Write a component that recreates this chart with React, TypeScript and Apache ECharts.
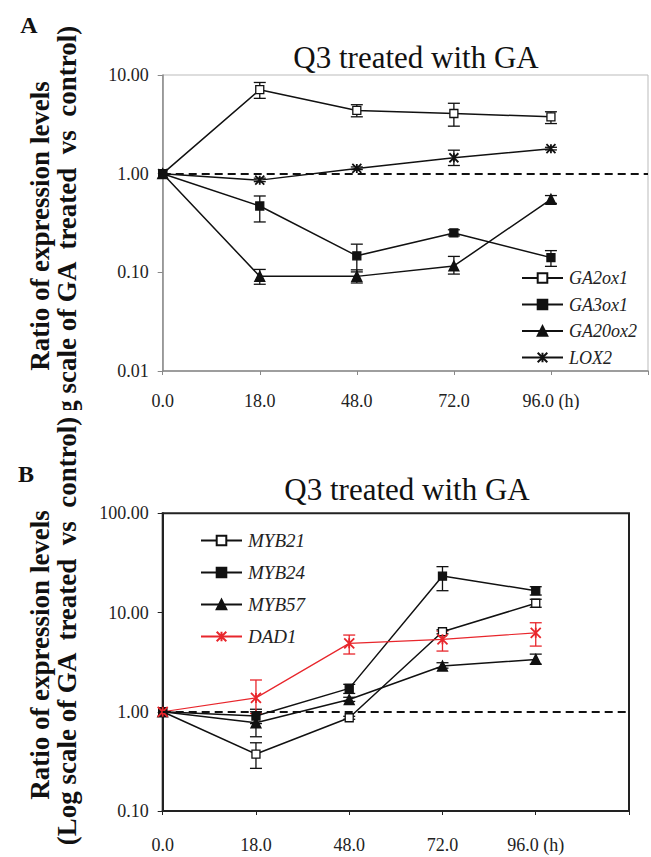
import React, { useEffect, useRef } from "react";
import * as echarts from "echarts";

const categories = ["0.0", "18.0", "48.0", "72.0", "96.0 (h)", ""];

// Panel A
const namesA = ["GA2ox1", "GA3ox1", "GA20ox2", "LOX2"];
const ga2ox1 = [1, 7.1, 4.37, 4.07, 3.77];
const ga2ox1Lo = [null, 5.8, 3.77, 3.03, 3.22];
const ga2ox1Hi = [null, 8.4, 5.0, 5.17, 4.24];
const ga3ox1 = [1, 0.47, 0.147, 0.251, 0.141];
const ga3ox1Lo = [null, 0.324, 0.101, 0.234, 0.115];
const ga3ox1Hi = [null, 0.594, 0.193, 0.27, 0.166];
const ga20ox2 = [1, 0.091, 0.091, 0.116, 0.55];
const ga20ox2Lo = [null, 0.0757, 0.078, 0.096, 0.5];
const ga20ox2Hi = [null, 0.107, 0.106, 0.145, 0.6];
const lox2 = [1, 0.86, 1.13, 1.45, 1.79];
const lox2Lo = [null, 0.83, 1.1, 1.21, 1.74];
const lox2Hi = [null, 0.9, 1.17, 1.73, 1.85];

// Panel B
const namesB = ["MYB21", "MYB24", "MYB57", "DAD1"];
const myb21 = [1, 0.375, 0.87, 6.4, 12.4];
const myb21Lo = [null, 0.269, 0.84, 6.1, 11.3];
const myb21Hi = [null, 0.487, 0.9, 6.7, 13.6];
const myb24 = [1, 0.905, 1.72, 23.3, 16.6];
const myb24Lo = [null, 0.76, 1.53, 16.6, 15.0];
const myb24Hi = [null, 1.06, 1.89, 29, 18.2];
const myb57 = [1, 0.775, 1.33, 2.89, 3.37];
const myb57Lo = [null, 0.56, 1.27, 2.75, 3.02];
const myb57Hi = [null, 1.0, 1.4, 3.12, 3.81];
const dad1 = [1, 1.38, 4.89, 5.37, 6.25];
const dad1Lo = [null, 0.96, 3.82, 4.09, 4.59];
const dad1Hi = [null, 2.09, 5.93, 6.5, 7.89];

const SERIF = "Liberation Serif";
const STAR = "path://M0,0L10,10M10,0L0,10M5,0L5,10";

type SDef = {
  name: string;
  values: number[];
  lo: (number | null)[];
  hi: (number | null)[];
  symbol: string;
  fill: string;
  color: string;
  size: number;
  lw: number;
};

function buildSeries(defs: SDef[]) {
  const out: any[] = [];
  defs.forEach((d, k) => {
    const isStar = d.symbol === STAR;
    out.push({
      type: "line",
      name: d.name,
      data: d.values,
      symbol: d.symbol,
      symbolSize: d.size,
      z: 3,
      lineStyle: { color: d.color, width: d.lw },
      itemStyle: {
        color: isStar ? d.color : d.fill,
        borderColor: d.color,
        borderWidth: isStar ? 1.8 : 1.3,
      },
      emphasis: { disabled: true },
      markLine:
        k === 0
          ? {
              silent: true,
              symbol: "none",
              label: { show: false },
              lineStyle: { color: "#111", type: [8, 5], width: 2 },
              data: [{ yAxis: 1 }],
            }
          : undefined,
    });
    const ebData: number[][] = [];
    d.lo.forEach((l, i) => {
      const h = d.hi[i];
      if (l != null && h != null) ebData.push([i, l, h]);
    });
    out.push({
      type: "custom",
      name: d.name + "-err",
      z: 2,
      data: ebData,
      renderItem: (_p: any, api: any) => {
        const x = api.value(0);
        const pLo = api.coord([x, api.value(1)]);
        const pHi = api.coord([x, api.value(2)]);
        const w = 6;
        const st = { stroke: d.color, lineWidth: 1.3 };
        return {
          type: "group",
          children: [
            { type: "line", shape: { x1: pLo[0], y1: pLo[1], x2: pHi[0], y2: pHi[1] }, style: st },
            { type: "line", shape: { x1: pHi[0] - w, y1: pHi[1], x2: pHi[0] + w, y2: pHi[1] }, style: st },
            { type: "line", shape: { x1: pLo[0] - w, y1: pLo[1], x2: pLo[0] + w, y2: pLo[1] }, style: st },
          ],
        };
      },
    });
  });
  return out;
}

function makeOption(cfg: any) {
  return {
    animation: false,
    backgroundColor: "#fff",
    textStyle: { fontFamily: SERIF },
    grid: {
      left: cfg.grid.left,
      right: cfg.grid.right,
      top: cfg.grid.top,
      bottom: cfg.grid.bottom,
      show: true,
      borderColor: cfg.borderColor,
      borderWidth: cfg.borderWidth,
    },
    legend: {
      data: cfg.names,
      orient: "vertical",
      left: cfg.legend.left,
      top: cfg.legend.top,
      itemWidth: 41,
      itemHeight: 12,
      itemGap: cfg.legend.gap,
      padding: 0,
      selectedMode: false,
      textStyle: {
        fontFamily: SERIF,
        fontStyle: "italic",
        fontSize: cfg.legend.fontSize,
        lineHeight: cfg.legend.fontSize,
        color: "#222",
        padding: [0, 0, 0, 1],
      },
    },
    xAxis: {
      type: "category",
      data: categories,
      boundaryGap: false,
      axisLine: { lineStyle: { color: cfg.axisColor, width: cfg.axisWidth } },
      axisTick: { show: true, length: 4, alignWithLabel: true, lineStyle: { color: cfg.axisColor } },
      axisLabel: {
        interval: 0,
        margin: cfg.xLabelMargin,
        fontFamily: SERIF,
        fontSize: 18,
        color: "#222",
      },
      splitLine: { show: false },
    },
    yAxis: {
      type: "log",
      logBase: 10,
      min: cfg.ymin,
      max: cfg.ymax,
      axisLine: { show: true, lineStyle: { color: cfg.axisColor, width: cfg.axisWidth } },
      axisTick: { show: true, length: 5, lineStyle: { color: cfg.axisColor } },
      axisLabel: {
        margin: 14,
        fontFamily: SERIF,
        fontSize: 18,
        color: "#222",
        formatter: (v: number) => v.toFixed(2),
      },
      splitLine: { show: false },
      minorTick: { show: false },
    },
    series: buildSeries(cfg.series),
    graphic: [
      {
        type: "text",
        x: cfg.letter.x,
        y: cfg.letter.y,
        style: {
          text: cfg.letter.text,
          fontFamily: SERIF,
          fontWeight: "bold",
          fontSize: 24,
          fill: "#111",
          textAlign: "center",
          textVerticalAlign: "middle",
        },
      },
      {
        type: "text",
        x: cfg.title.x,
        y: cfg.title.y,
        style: {
          text: "Q3 treated with GA",
          fontFamily: SERIF,
          fontSize: 31,
          fill: "#111",
          textAlign: "center",
          textVerticalAlign: "middle",
        },
      },
      {
        type: "text",
        x: 40,
        y: cfg.ylab1y,
        rotation: Math.PI / 2,
        style: {
          text: "Ratio of expression levels",
          fontFamily: SERIF,
          fontWeight: "bold",
          fontSize: 27,
          fill: "#111",
          textAlign: "center",
          textVerticalAlign: "middle",
        },
      },
      {
        type: "text",
        x: 67,
        y: cfg.ylab2y,
        rotation: Math.PI / 2,
        style: {
          text: "(Log scale of GA  treated  vs  control)",
          fontFamily: SERIF,
          fontWeight: "bold",
          fontSize: 27,
          fill: "#111",
          textAlign: "center",
          textVerticalAlign: "middle",
        },
      },
    ],
  };
}

const BLACK = "#111";
const RED = "#e8262c";

const cfgA = {
  names: namesA,
  grid: { left: 162.7, right: 3, top: 75, bottom: 410 - 371.7 },
  borderColor: "#bbb",
  borderWidth: 1,
  axisColor: "#888",
  axisWidth: 1.5,
  xLabelMargin: 21,
  ymin: 0.01,
  ymax: 10,
  legend: { left: 521, top: 269, gap: 8.5, fontSize: 18 },
  letter: { text: "A", x: 29, y: 25 },
  title: { x: 416, y: 57 },
  ylab1y: 226,
  ylab2y: 240,
  series: [
    { name: "GA2ox1", values: ga2ox1, lo: ga2ox1Lo, hi: ga2ox1Hi, symbol: "rect", fill: "#fff", color: BLACK, size: 8, lw: 1.5 },
    { name: "GA3ox1", values: ga3ox1, lo: ga3ox1Lo, hi: ga3ox1Hi, symbol: "rect", fill: BLACK, color: BLACK, size: 8, lw: 1.5 },
    { name: "GA20ox2", values: ga20ox2, lo: ga20ox2Lo, hi: ga20ox2Hi, symbol: "triangle", fill: BLACK, color: BLACK, size: 10, lw: 1.5 },
    { name: "LOX2", values: lox2, lo: lox2Lo, hi: lox2Hi, symbol: STAR, fill: BLACK, color: BLACK, size: 9, lw: 1.5 },
  ],
};

const OFF = 410;
const cfgB = {
  names: namesB,
  grid: { left: 162.7, right: 22, top: 513.3 - OFF, bottom: 857 - 811 },
  borderColor: "#222",
  borderWidth: 2,
  axisColor: "#222",
  axisWidth: 2,
  xLabelMargin: 25,
  ymin: 0.1,
  ymax: 100,
  legend: { left: 200, top: 540 - OFF - 9, gap: 13, fontSize: 19 },
  letter: { text: "B", x: 26, y: 474 - OFF },
  title: { x: 407, y: 489 - OFF },
  ylab1y: 655 - OFF,
  ylab2y: 631 - OFF,
  series: [
    { name: "MYB21", values: myb21, lo: myb21Lo, hi: myb21Hi, symbol: "rect", fill: "#fff", color: BLACK, size: 8, lw: 1.5 },
    { name: "MYB24", values: myb24, lo: myb24Lo, hi: myb24Hi, symbol: "rect", fill: BLACK, color: BLACK, size: 8, lw: 1.5 },
    { name: "MYB57", values: myb57, lo: myb57Lo, hi: myb57Hi, symbol: "triangle", fill: BLACK, color: BLACK, size: 10, lw: 1.5 },
    { name: "DAD1", values: dad1, lo: dad1Lo, hi: dad1Hi, symbol: STAR, fill: RED, color: RED, size: 10, lw: 1.2 },
  ],
};

function Panel({ cfg, height }: { cfg: any; height: number }) {
  const ref = useRef<HTMLDivElement>(null);
  useEffect(() => {
    if (!ref.current) return;
    const chart = echarts.init(ref.current, undefined, { renderer: "svg" });
    chart.setOption(makeOption(cfg) as any);
    return () => chart.dispose();
  }, [cfg]);
  return <div ref={ref} style={{ width: 651, height, overflow: "hidden" }} />;
}

export default function App() {
  return (
    <div style={{ position: "fixed", left: 0, top: 0, width: 651, height: 857, background: "#fff" }}>
      <Panel cfg={cfgA} height={OFF} />
      <Panel cfg={cfgB} height={857 - OFF} />
    </div>
  );
}
